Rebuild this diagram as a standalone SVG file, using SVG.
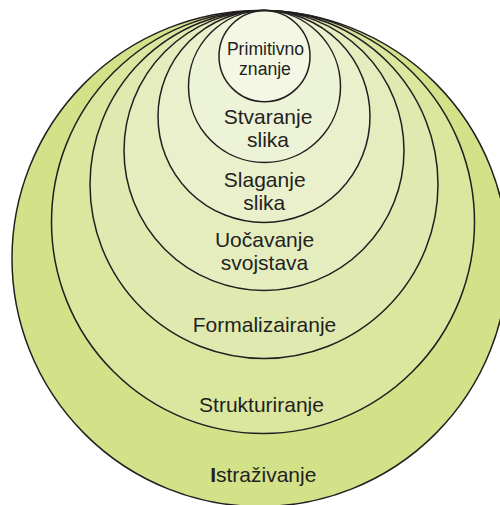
<svg xmlns="http://www.w3.org/2000/svg" width="500" height="505" viewBox="0 0 500 505">
<style>
.c{stroke:#231f20;stroke-width:1.5}
.t{font-family:"Liberation Sans",Arial,sans-serif;font-size:21px;fill:#231f20;text-anchor:middle}
.s{font-size:17.6px}
</style>
<rect width="500" height="505" fill="#ffffff"/>
<g id="istrazivanje">
<circle class="c" cx="260" cy="258.5" r="248" fill="#d3e289"/>
<text class="t" x="263.3" y="481.7"><tspan font-weight="bold">I</tspan>straživanje</text>
</g>
<g id="strukturiranje">
<circle class="c" cx="263" cy="222" r="211.5" fill="#dbe69f"/>
<text class="t" x="261.5" y="411.7">Strukturiranje</text>
</g>
<g id="formalizairanje">
<circle class="c" cx="264" cy="184.5" r="174" fill="#e0eab0"/>
<text class="t" x="264.5" y="331.7">Formalizairanje</text>
</g>
<g id="uocavanje">
<circle class="c" cx="264" cy="150.5" r="140" fill="#e5edbf"/>
<text class="t" x="264.5" y="247.3">Uočavanje</text>
<text class="t" x="264.5" y="270">svojstava</text>
</g>
<g id="slaganje">
<circle class="c" cx="264" cy="116.5" r="106" fill="#e9f0cb"/>
<text class="t" x="264.7" y="186.7">Slaganje</text>
<text class="t" x="264.3" y="210">slika</text>
</g>
<g id="stvaranje">
<circle class="c" cx="264.5" cy="86.5" r="76" fill="#edf3d6"/>
<text class="t" x="268" y="124.3">Stvaranje</text>
<text class="t" x="268" y="146.7">slika</text>
</g>
<g id="primitivno">
<circle class="c" cx="264.5" cy="56.2" r="45.5" fill="#f3f7e3"/>
<text class="t s" x="265.5" y="55.2">Primitivno</text>
<text class="t s" x="265" y="74.5">znanje</text>
</g>
<g id="connectors"/>
</svg>
